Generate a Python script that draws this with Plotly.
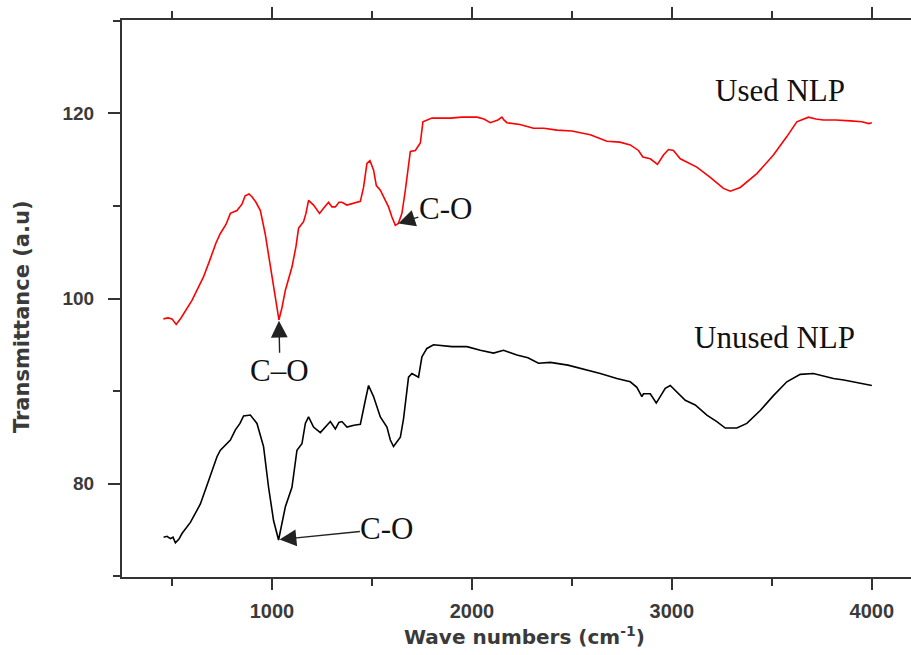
import plotly.graph_objects as go

# FTIR spectra: wavenumber (cm^-1) vs transmittance (a.u.)
used_wavenumber = [
    457, 480, 500, 521, 545, 575, 600, 625, 657, 690,
    720, 741, 770, 792, 825, 850, 866, 885, 900, 920,
    942, 966, 992, 1017, 1035, 1050, 1067, 1100, 1120, 1133,
    1158, 1170, 1183, 1208, 1238, 1260, 1283, 1300, 1317, 1335,
    1350, 1375, 1408, 1442, 1458, 1475, 1490, 1508, 1522, 1542,
    1567, 1583, 1600, 1617, 1632, 1650, 1667, 1692, 1717, 1742,
    1755, 1780, 1800, 1850, 1892, 1950, 2025, 2060, 2092, 2130,
    2150, 2160, 2175, 2240, 2308, 2360, 2425, 2500, 2592, 2675,
    2740, 2792, 2833, 2855, 2892, 2928, 2958, 2983, 3008, 3042,
    3080, 3125, 3192, 3258, 3292, 3342, 3425, 3508, 3575, 3625,
    3683, 3720, 3758, 3820, 3892, 3950, 3985, 4000,
]
used_transmittance = [
    97.8, 97.9, 97.8, 97.2, 97.9, 98.9, 99.8, 100.9, 102.3, 104.2,
    106.0, 107.0, 108.0, 109.2, 109.5, 110.2, 111.1, 111.3, 111.0, 110.4,
    109.5, 107.0, 103.4, 100.2, 97.7, 99.0, 100.9, 103.4, 105.6, 107.6,
    108.3, 109.2, 110.6, 110.1, 109.2, 109.8, 110.4, 109.9, 109.9, 110.4,
    110.4, 110.1, 110.3, 110.5, 112.0, 114.6, 114.9, 113.9, 112.2, 111.7,
    110.6, 109.9, 108.8, 107.9, 108.1, 109.2, 111.7, 115.9, 116.0, 116.8,
    119.1, 119.3, 119.5, 119.5, 119.5, 119.6, 119.6, 119.4, 119.0, 119.3,
    119.6, 119.3, 119.0, 118.8, 118.4, 118.4, 118.2, 118.1, 117.7, 117.0,
    116.9, 116.6, 116.0, 115.3, 115.1, 114.5, 115.5, 116.1, 116.0, 115.1,
    114.7, 114.2, 113.1, 111.9, 111.6, 112.0, 113.5, 115.5, 117.5, 119.1,
    119.6, 119.4, 119.3, 119.3, 119.2, 119.1, 118.9, 119.0,
]

unused_wavenumber = [
    458, 475, 492, 505, 517, 535, 550, 592, 620, 642,
    683, 725, 742, 792, 817, 840, 858, 892, 925, 958,
    983, 1008, 1033, 1050, 1067, 1100, 1125, 1150, 1167, 1183,
    1208, 1242, 1270, 1292, 1317, 1335, 1350, 1375, 1410, 1442,
    1467, 1483, 1508, 1542, 1575, 1592, 1608, 1642, 1658, 1683,
    1700, 1733, 1750, 1775, 1808, 1860, 1900, 1975, 2042, 2108,
    2158, 2225, 2280, 2333, 2392, 2480, 2558, 2642, 2725, 2792,
    2825, 2850, 2858, 2892, 2922, 2950, 2967, 2992, 3033, 3067,
    3117, 3175, 3225, 3267, 3325, 3375, 3442, 3508, 3575, 3642,
    3708, 3760, 3808, 3860, 3908, 3960, 4000,
]
unused_transmittance = [
    74.2, 74.3, 74.05, 74.2, 73.6, 74.0, 74.6, 75.8, 76.9, 77.8,
    80.3, 82.9, 83.6, 84.7, 85.8, 86.5, 87.3, 87.4, 86.5, 84.0,
    79.6, 76.0, 73.9, 75.6, 77.5, 79.6, 83.6, 84.3, 86.5, 87.2,
    86.1, 85.5, 86.2, 86.7, 85.9, 86.6, 86.7, 86.1, 86.3, 86.4,
    89.0, 90.6, 89.4, 87.2, 86.1, 84.7, 84.0, 85.0, 87.0, 91.5,
    91.9, 91.5, 93.7, 94.6, 95.0, 94.9, 94.8, 94.8, 94.4, 94.1,
    94.4, 93.9, 93.6, 93.0, 93.1, 92.8, 92.4, 91.9, 91.35, 91.0,
    90.4, 89.4, 89.7, 89.7, 88.7, 89.7, 90.3, 90.6, 89.7, 89.0,
    88.5, 87.4, 86.7, 86.0, 86.0, 86.5, 87.9, 89.5, 91.0, 91.8,
    91.9, 91.6, 91.35, 91.2, 91.0, 90.8, 90.6,
]

# Band labels: text position and the point the arrow points at
band_text = ["C\u2013O", "C-O", "C-O"]
band_text_x = [1040, 1867, 1575]
band_text_y = [92.2, 109.75, 75.1]
band_head_x = [1035, 1632, 1038]
band_head_y = [97.6, 108.1, 73.95]

series_names = ["Used NLP", "Unused NLP"]
series_label_x = [3542, 3512]
series_label_y = [122.5, 95.75]

serif = "Liberation Serif, Times New Roman, serif"
sans = "Liberation Sans, Arial, sans-serif"
axis_col = "#333333"

fig = go.Figure()
fig.add_trace(go.Scatter(x=used_wavenumber, y=used_transmittance, mode="lines",
                         line=dict(color="#ff0000", width=1.6), name=series_names[0]))
fig.add_trace(go.Scatter(x=unused_wavenumber, y=unused_transmittance, mode="lines",
                         line=dict(color="#000000", width=1.6), name=series_names[1]))

annotations = []
for t, tx, ty, hx, hy in zip(band_text, band_text_x, band_text_y, band_head_x, band_head_y):
    annotations.append(dict(x=hx, y=hy, ax=tx, ay=ty, xref="x", yref="y",
                            axref="x", ayref="y", text=t, showarrow=True,
                            arrowhead=2, arrowsize=2.4, arrowwidth=1.4,
                            arrowcolor="#222222", standoff=0, borderpad=0,
                            font=dict(family=serif, size=31, color="#111111")))
for name, lx, ly in zip(series_names, series_label_x, series_label_y):
    annotations.append(dict(x=lx, y=ly, xref="x", yref="y", text=name, showarrow=False,
                            font=dict(family=serif, size=31, color="#111111"),
                            xanchor="center", yanchor="middle"))

# Axis titles
annotations.append(dict(x=0.51, y=-0.106, xref="paper", yref="paper",
                        text="<b>Wave numbers (cm<sup>-1</sup>)</b>", showarrow=False,
                        font=dict(family="DejaVu Sans, sans-serif", size=20, color="#3a3a3a"),
                        xanchor="center", yanchor="middle"))
annotations.append(dict(x=-0.1267, y=0.4668, xref="paper", yref="paper",
                        text="<b>Transmittance (a.u)</b>", showarrow=False, textangle=-90,
                        font=dict(family="DejaVu Sans, sans-serif", size=21, color="#3a3a3a"),
                        xanchor="center", yanchor="middle"))

fig.update_layout(
    width=911, height=655,
    margin=dict(l=122, r=0, t=20, b=78),
    paper_bgcolor="white", plot_bgcolor="white",
    showlegend=False,
    annotations=annotations,
)
fig.update_xaxes(
    range=[250, 4196], showgrid=False, zeroline=False,
    showline=True, linecolor=axis_col, linewidth=2, mirror="ticks",
    ticks="outside", ticklen=11, tickwidth=2, tickcolor=axis_col,
    tick0=0, dtick=1000,
    minor=dict(ticks="outside", ticklen=7, tickwidth=2, tickcolor=axis_col, dtick=500, showgrid=False),
    tickfont=dict(family=sans, size=20, color="#3a3a3a", weight="bold"),
    ticklabelstandoff=4,
)
fig.update_yaxes(
    range=[69.9, 130.1], showgrid=False, zeroline=False,
    showline=True, linecolor=axis_col, linewidth=2, mirror=False,
    ticks="outside", ticklen=12, tickwidth=2, tickcolor=axis_col,
    tick0=0, dtick=20,
    minor=dict(ticks="outside", ticklen=7, tickwidth=2, tickcolor=axis_col, dtick=10, showgrid=False),
    tickfont=dict(family=sans, size=19, color="#3a3a3a", weight="bold"),
    ticklabelstandoff=10,
)

fig.write_html("out.html")
